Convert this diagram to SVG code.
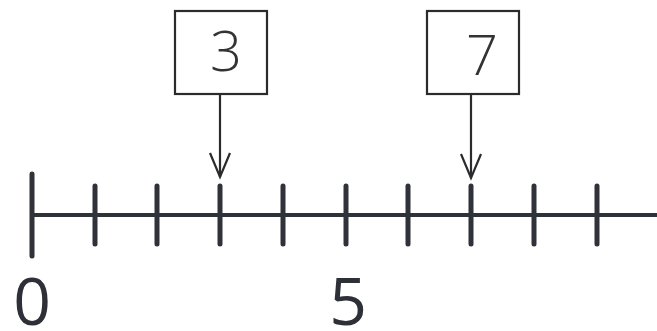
<svg xmlns="http://www.w3.org/2000/svg" width="657" height="331" viewBox="0 0 657 331">
<style>
.box{fill:#fff;stroke:#2b2b2e;stroke-width:2.2}
.lbl{font-family:"Open Sans","Liberation Sans",sans-serif;font-weight:300;font-size:56px;fill:#333;text-anchor:middle}
.num{font-family:"Open Sans","Liberation Sans",sans-serif;font-weight:500;font-size:66px;fill:#2e3038;text-anchor:middle}
.tick{stroke:#30323a;stroke-width:5;stroke-linecap:round}
.axis{stroke:#30323a;stroke-width:4}
.arr{stroke:#2b2b2e;stroke-width:2.2;fill:none}
</style>
<rect width="657" height="331" fill="#fff"/>
<g id="axis">
<line class="axis" x1="32" y1="215" x2="657" y2="215"/>
<line class="tick" x1="32" y1="174" x2="32" y2="256"/>
<line class="tick" x1="95" y1="186" x2="95" y2="244"/>
<line class="tick" x1="157" y1="186" x2="157" y2="244"/>
<line class="tick" x1="220" y1="186" x2="220" y2="244"/>
<line class="tick" x1="283" y1="186" x2="283" y2="244"/>
<line class="tick" x1="346" y1="186" x2="346" y2="244"/>
<line class="tick" x1="408" y1="186" x2="408" y2="244"/>
<line class="tick" x1="471" y1="186" x2="471" y2="244"/>
<line class="tick" x1="534" y1="186" x2="534" y2="244"/>
<line class="tick" x1="597" y1="186" x2="597" y2="244"/>
</g>
<g id="label0"><text class="num" x="32" y="325">0</text></g>
<g id="label5"><text class="num" x="348" y="325">5</text></g>
<g id="box3">
<rect class="box" x="175" y="11" width="92" height="83"/>
<text class="lbl" x="226" y="71">3</text>
</g>
<g id="box7">
<rect class="box" x="427" y="11" width="92" height="83"/>
<text class="lbl" x="482" y="75">7</text>
</g>
<g id="connectors">
<line class="arr" x1="220" y1="94" x2="220" y2="177"/>
<polyline class="arr" points="210,153 220,177 230,153"/>
<line class="arr" x1="471" y1="94" x2="471" y2="178"/>
<polyline class="arr" points="461,154 471,178 481,154"/>
</g>
</svg>
